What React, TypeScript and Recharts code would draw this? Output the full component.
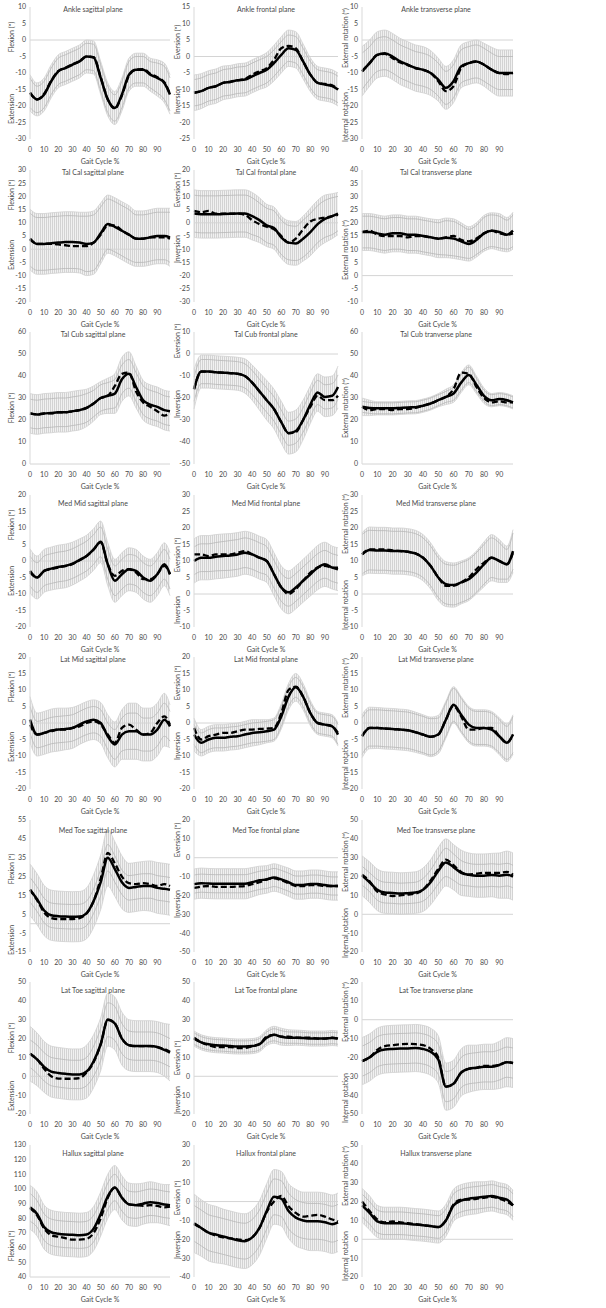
import React from "react";
import { ComposedChart, Line, Area, XAxis, YAxis, ReferenceLine } from "recharts";

// gait cycle sample points (%)
const gaitPct = [0, 5, 10, 15, 20, 25, 30, 35, 40, 45, 50, 55, 60, 65, 70, 75, 80, 85, 90, 95, 99];
const gaitTicks = [0, 10, 20, 30, 40, 50, 60, 70, 80, 90];

// y tick sets
const ticksM30to10 = [-30, -25, -20, -15, -10, -5, 0, 5, 10];
const ticksM25to15 = [-25, -20, -15, -10, -5, 0, 5, 10, 15];
const ticksM20to30 = [-20, -15, -10, -5, 0, 5, 10, 15, 20, 25, 30];
const ticksM30to20 = [-30, -25, -20, -15, -10, -5, 0, 5, 10, 15, 20];
const ticksM10to40 = [-10, -5, 0, 5, 10, 15, 20, 25, 30, 35, 40];
const ticks0to60 = [0, 10, 20, 30, 40, 50, 60];
const ticksM50to10 = [-50, -40, -30, -20, -10, 0, 10];
const ticksM20to20 = [-20, -15, -10, -5, 0, 5, 10, 15, 20];
const ticksM10to30 = [-10, -5, 0, 5, 10, 15, 20, 25, 30];
const ticksM15to55 = [-15, -5, 5, 15, 25, 35, 45, 55];
const ticksM50to20 = [-50, -40, -30, -20, -10, 0, 10, 20];
const ticksM20to50 = [-20, -10, 0, 10, 20, 30, 40, 50];
const ticks40to130 = [40, 50, 60, 70, 80, 90, 100, 110, 120, 130];
const ticksM40to30 = [-40, -30, -20, -10, 0, 10, 20, 30];

// Ankle
const ankleSagSolid = [-16, -18, -16.5, -12.5, -9.5, -8.5, -7.5, -6.5, -5, -5.3, -11.5, -18, -20.6, -16.5, -10.5, -9, -9, -10.5, -11.5, -13, -16.5];
const ankleSagDashed = [-16, -18, -16.3, -12.3, -9.4, -8.4, -7.4, -6.4, -5, -5.2, -11.3, -18, -20.8, -16.8, -10.8, -9, -8.8, -10.2, -11.3, -12.8, -16.3];
const ankleSagSd = [5.5, 5, 5, 5, 5, 5, 5, 5, 5, 5, 5, 5, 5, 5, 5, 5, 5, 5, 5.5, 6, 6];
const ankleSagSdIn = [4.5, 4, 4, 4, 4, 4, 4, 4, 4, 4, 4, 4, 4, 4, 4, 4, 4, 4, 4.5, 5, 5];

const ankleFrontSolid = [-11, -10.5, -9.5, -9, -8, -7.7, -7.2, -7, -6, -5, -4, -2, 0.5, 2.5, 2, -1.5, -5.5, -8, -8.5, -9, -10];
const ankleFrontDashed = [-11, -10.5, -9.5, -9, -8, -7.6, -7.2, -6.8, -5.5, -4.5, -3.5, -1, 2.5, 3.2, 2.5, -1.5, -5.5, -8, -8.3, -8.7, -10];
const ankleFrontSd = [5.4, 5.3, 5.2, 5.2, 5.1, 5, 5, 5, 5, 5, 5.2, 5.4, 5.5, 5.5, 5.5, 5.3, 5.1, 5, 5, 5, 5];
const ankleFrontSdIn = [4, 4, 4, 4, 4, 4, 4, 4, 4, 4, 4, 4, 4, 4, 4, 4, 4, 4, 4, 4, 4];

const ankleTransSolid = [-9.5, -7, -4.5, -4, -5, -6.5, -7.5, -8.5, -9, -10, -12, -14.5, -12.5, -8, -7, -6.5, -7.5, -9, -10, -10, -10];
const ankleTransDashed = [-9.5, -7, -4.5, -4.2, -5.5, -6.8, -7.6, -8.5, -9, -10, -12.5, -15.5, -14, -8.5, -7, -6.5, -7.5, -9, -10, -10.3, -10];
const ankleTransSd = [7.5, 7, 7, 7, 7, 7, 7, 7, 7, 6.8, 6.5, 6.5, 6.5, 6.5, 6.5, 6.5, 6.5, 6.8, 7, 7, 7];
const ankleTransSdIn = [5.5, 5, 5, 5, 5, 5, 5, 5, 5, 5, 5, 5, 5, 5, 5, 5, 5, 5, 5, 5, 5];

// Tal Cal
const talCalSagSolid = [3.7, 2, 2, 2.3, 2.5, 2.7, 2.7, 2.5, 2, 2.5, 6, 9.5, 8.5, 7, 5.5, 4, 4, 4.5, 5, 5, 4.5];
const talCalSagDashed = [4, 2, 2, 2, 1.8, 1.5, 1.2, 1.2, 1.2, 2.5, 5.5, 9, 9, 7, 5.5, 4, 4, 4.5, 4.5, 4.5, 4];
const talCalSagSd = [11.5, 11.5, 11.5, 11.5, 11.5, 11.5, 11.5, 11.5, 12, 12, 11.5, 11, 11, 11, 11, 10.5, 10.5, 10.5, 10.5, 10.5, 11];
const talCalSagSdIn = [10, 10, 10, 10, 10, 10, 10, 10, 10.5, 10.5, 10, 9.5, 9.5, 9.5, 9.5, 9, 9, 9, 9, 9, 9.5];

const talCalFrontSolid = [3.5, 3.2, 3.2, 3.2, 3.3, 3.4, 3.5, 3.5, 2.5, 1, -1, -2, -5.5, -7.5, -7.8, -6, -3.5, -0.5, 1.5, 2.5, 3.5];
const talCalFrontDashed = [4.5, 4, 4.5, 3.5, 3.5, 3.5, 3.5, 3, 1, -0.5, -1.5, -2.5, -5, -7.5, -6, -2.5, 0.5, 1.5, 2, 2.5, 3];
const talCalFrontSd = [9, 9, 9, 9, 9, 9, 9, 9, 9, 8.5, 8, 8, 8, 8.3, 8.3, 8.5, 9, 9, 9, 8.5, 8];
const talCalFrontSdIn = [7, 7, 7, 7, 7, 7, 7, 7, 7, 6.5, 6.5, 6.5, 6.5, 6.5, 6.5, 7, 7, 7, 7, 7, 6.5];

const talCalTransSolid = [16.5, 16.5, 16, 15.5, 16, 16, 15.5, 15.5, 15, 14.5, 14, 14.3, 14, 13, 12, 13.5, 16, 17, 16.5, 15.5, 17];
const talCalTransDashed = [16.5, 17, 15.5, 15, 15, 15, 14.5, 15, 15, 14.5, 14, 14.5, 15, 13.5, 13, 14, 16, 17, 16, 15.5, 16];
const talCalTransSd = [7, 7, 7, 7, 7, 7, 7, 7, 7, 7, 7.2, 7.5, 7.5, 7, 6.5, 6.5, 6.8, 6.8, 7, 6.5, 7];
const talCalTransSdIn = [6, 6, 6, 6, 6, 6, 6, 6, 6, 6, 6, 6.5, 6.5, 6, 5.5, 5.5, 6, 6, 6, 5.5, 6];

// Tal Cub
const talCubSagSolid = [23, 22.5, 23, 23.2, 23.5, 23.5, 24, 24.5, 25.5, 27.5, 30, 31, 32, 38.5, 41, 35, 29, 27, 26, 24.5, 24];
const talCubSagDashed = [23, 22.5, 23, 23, 23.5, 23.5, 24, 24.5, 25.5, 27.5, 30, 31, 35.5, 41, 41.5, 33, 28, 26, 24, 22, 23];
const talCubSagSd = [9, 9, 9, 9, 9, 9, 9, 9, 8.5, 8, 7.5, 8, 9, 10, 10, 9.5, 9, 9, 9, 9, 9];
const talCubSagSdIn = [6.5, 6.5, 6.5, 6.5, 6.5, 6.5, 6.5, 6.5, 6.5, 6, 6, 6, 6.5, 6.5, 6.5, 6.5, 6.5, 6.5, 6.5, 6.5, 6.5];

const talCubFrontSolid = [-16, -8, -8, -8.3, -8.5, -8.7, -9, -10, -13, -17, -21, -25, -31, -36, -35, -30, -23, -17.5, -19.5, -19, -15];
const talCubFrontDashed = [-16, -8, -8, -8.3, -8.5, -8.7, -9, -10, -13, -17, -21, -25, -31, -36, -35.5, -30, -24, -19, -21, -21, -19];
const talCubFrontSd = [9, 7.5, 7.5, 7.5, 7.5, 7.5, 7.5, 7.8, 8, 8.5, 9, 9, 9.5, 9.5, 9.5, 9, 8.5, 8.5, 9, 9, 9.5];
const talCubFrontSdIn = [5.5, 5.5, 5.5, 5.5, 5.5, 5.5, 5.5, 5.5, 5.5, 5.5, 5.5, 5.5, 5.5, 5.5, 5.5, 5.5, 5.5, 5.5, 5.5, 5.5, 5.5];

const talCubTransSolid = [26, 25.5, 25.3, 25.3, 25.3, 25.5, 25.7, 25.8, 26.5, 27.5, 29, 30.5, 32, 37, 40.5, 36, 31, 29, 29.5, 29, 28];
const talCubTransDashed = [26, 24.5, 25, 25, 24.5, 25, 25, 25.5, 26.5, 27.5, 29, 30.5, 34, 41.5, 41, 35, 30, 28, 28.5, 28, 28];
const talCubTransSd = [4, 3.5, 3, 3, 3, 3, 3, 3, 3, 3, 3, 3.5, 4, 4.5, 4.5, 4, 3.5, 3, 3, 3, 3];
const talCubTransSdIn = [2.5, 2.5, 2.5, 2.5, 2.5, 2.5, 2.5, 2.5, 2.5, 2.5, 2.5, 2.5, 3, 3.5, 3.5, 3, 2.5, 2.5, 2.5, 2.5, 2.5];

// Med Mid
const medMidSagSolid = [-3, -5, -3, -2.3, -1.8, -1.5, -0.8, 0.3, 1.5, 3.5, 5.8, -1, -6, -4, -2.5, -3, -5, -6, -4, -1, -4];
const medMidSagDashed = [-3.5, -5, -3, -2.5, -2, -1.5, -1, 0.2, 1.5, 3.5, 5.7, -1, -4.5, -3, -2.5, -3.5, -5.5, -5.5, -4, -1.5, -4];
const medMidSagSd = [6.7, 6.5, 6.5, 6.5, 6.6, 6.6, 6.5, 6.4, 6.3, 6.3, 6.3, 6.5, 6.5, 6.5, 6.5, 6.5, 6.5, 6.5, 6.5, 6.5, 6.5];
const medMidSagSdIn = [4.5, 4.5, 4.5, 4.5, 4.5, 4.5, 4.5, 4.5, 4.5, 4.5, 4.5, 4.5, 4.5, 4.5, 4.5, 4.5, 4.5, 4.5, 4.5, 4.5, 4.5];

const medMidFrontSolid = [10, 11, 11, 11.3, 11.5, 11.7, 12, 12.5, 12, 11, 10, 6, 2, 0.5, 2, 4, 6, 8, 9, 8, 7.5];
const medMidFrontDashed = [12, 12, 11.5, 12, 12, 12, 12.5, 13, 12, 11, 10, 6, 2, 0, 1.5, 4, 6.5, 8, 8.5, 8, 8];
const medMidFrontSd = [6.7, 6.7, 6.7, 6.7, 6.7, 6.6, 6.6, 6.5, 6.5, 6.5, 6.5, 6.5, 6.5, 6.5, 6.5, 6.5, 6.6, 6.7, 6.7, 6.5, 6.5];
const medMidFrontSdIn = [4.2, 4.2, 4.2, 4.3, 4.4, 4.5, 4.5, 4.5, 4.5, 4.5, 4.3, 4.2, 4.2, 4.2, 4.2, 4.2, 4.2, 4.2, 4.2, 4.2, 4.2];

const medMidTransSolid = [12, 13.3, 13.2, 13.2, 13, 13, 12.8, 12.3, 11, 8.5, 5, 3, 2.7, 3.5, 4.5, 6.5, 9, 11, 10, 9, 13];
const medMidTransDashed = [12, 13.5, 13.5, 13.5, 13.2, 13, 12.8, 12.3, 11, 8.5, 5, 2.5, 2.5, 3.5, 5, 7.5, 9.5, 11, 10, 9, 12.5];
const medMidTransSd = [6.5, 7, 7, 7, 7, 7, 7, 7, 7, 7, 7, 6.8, 6.7, 6.5, 6.5, 6.5, 6.8, 7, 6.5, 5.5, 6.5];
const medMidTransSdIn = [6, 6, 6, 6, 6, 6, 6, 6, 6, 6, 6, 6, 6, 6, 6, 6, 6, 6, 5.5, 4.5, 5.5];

// Lat Mid
const latMidSagSolid = [1, -3.5, -3, -2.3, -2, -1.8, -1.5, -0.5, 0.5, 1, 0, -4, -6.5, -3.5, -2.5, -2.5, -3.5, -3.5, -2, 1, -1];
const latMidSagDashed = [-0.5, -3.5, -3, -2.5, -2, -2, -1.5, -1, 0, 0.5, -0.5, -3.5, -6, -1.5, -0.5, -2, -3.5, -3, 0, 2, -0.5];
const latMidSagSd = [7, 6.5, 6.5, 6.5, 6.5, 6.3, 6.2, 6, 6, 6, 6.2, 6.5, 6.8, 7.5, 8.5, 8.5, 8, 8, 8, 8, 6.5];
const latMidSagSdIn = [4, 4, 4, 4, 4, 4, 4, 4, 4, 4, 4, 4, 4.5, 5, 5.5, 5.5, 5, 5, 5, 5, 4.5];

const latMidFrontSolid = [-3.5, -6, -5, -4.5, -4.5, -4.2, -4, -3.5, -3, -2.8, -2.5, -2, 2, 8, 10.8, 8, 3, 0, -0.5, -1, -3.5];
const latMidFrontDashed = [-1.5, -5, -4, -3.5, -3, -3, -2.5, -2, -2, -1.8, -1.7, -1.5, 3, 10, 11, 8, 3, 0, -0.5, -1, -3];
const latMidFrontSd = [5, 4, 4, 4, 4, 4, 4, 4, 4, 3.8, 3.5, 3.5, 3.8, 4, 4.2, 4, 3.8, 3.5, 3.5, 3.5, 3.5];
const latMidFrontSdIn = [3, 3, 3, 3, 3, 3, 3, 3, 3, 3, 3, 3, 3, 3, 3, 3, 3, 3, 3, 3, 3];

const latMidTransSolid = [-4, -1.5, -1.5, -1.7, -1.8, -2, -2.2, -2.8, -3.5, -4.2, -3.5, 1, 5.5, 2.5, -0.5, -1.5, -1.5, -2, -4, -6, -3.5];
const latMidTransDashed = [-4, -1.5, -1.5, -1.7, -1.8, -2, -2.2, -2.8, -3.5, -4.2, -3.5, 1, 5.2, 2, -2, -2, -1.5, -1.5, -4, -6, -3.5];
const latMidTransSd = [6.5, 6.3, 6.2, 6.2, 6.2, 6.2, 6.2, 6.1, 6, 6, 5.8, 5.6, 5.5, 5.5, 5.5, 5.5, 5.5, 5.5, 5.6, 5.7, 6];
const latMidTransSdIn = [5.5, 5.5, 5.5, 5.5, 5.5, 5.5, 5.5, 5.5, 5.5, 5.5, 5, 5, 5, 5, 5, 5, 5, 5, 5, 5, 5.5];

// Med Toe
const medToeSagSolid = [18, 13, 7, 4.5, 4, 3.8, 3.7, 3.8, 5.5, 12, 22, 35, 29, 22, 19, 19.5, 20, 20, 19, 18.5, 18];
const medToeSagDashed = [18, 12.5, 6, 3, 2.5, 2.5, 2.5, 3, 5.5, 12, 24, 37.5, 32, 25, 21.5, 21, 21.5, 21, 20, 21, 20];
const medToeSagSd = [13.7, 13.5, 13.3, 13.3, 13.3, 13.3, 13.3, 13.3, 13.5, 14, 14.5, 15, 14.5, 14, 13, 13, 13, 13.3, 13.5, 13.5, 13.5];
const medToeSagSdIn = [6.5, 6.5, 6.5, 6.5, 6.5, 6.5, 6.5, 6.5, 6.5, 6.5, 7, 7, 7, 6.5, 6.5, 6.5, 6.5, 6.5, 6.5, 6.5, 6.5];

const medToeFrontSolid = [-14, -13.5, -13.7, -13.8, -13.8, -13.8, -13.8, -13.8, -13, -12, -11.5, -10.5, -11.5, -13, -14.5, -14.5, -14, -14, -14.5, -15, -15];
const medToeFrontDashed = [-16, -15.3, -15, -15.5, -15.5, -15.5, -15.3, -15, -14, -13, -11.5, -11, -12, -13.5, -15, -15, -14.5, -14.5, -15, -15, -15];
const medToeFrontSd = [8, 8, 8, 8, 8, 8, 8, 8, 7.8, 7.5, 7.3, 7.3, 7.3, 7.5, 7.5, 7.5, 7.5, 7.5, 7.5, 7.5, 7.5];
const medToeFrontSdIn = [4.8, 4.8, 4.8, 4.8, 4.8, 4.8, 4.8, 4.8, 4.8, 4.8, 4.8, 4.8, 4.8, 4.8, 4.8, 4.8, 4.8, 4.8, 4.8, 4.8, 4.8];

const medToeTransSolid = [20.5, 17, 13, 11.5, 11.3, 11, 11.2, 11.5, 13, 17, 23, 27.5, 25, 22, 21, 20.5, 20.5, 20.8, 20.5, 21, 20];
const medToeTransDashed = [21, 17.5, 12, 10.5, 9.7, 10, 10.5, 11, 13, 18, 24, 29, 26, 22.5, 21, 21.5, 22, 22, 22, 22.5, 21];
const medToeTransSd = [10.5, 10.8, 11, 11, 11, 11, 11, 11, 11.5, 12, 12.5, 12.5, 12, 12, 11.5, 11.5, 11.5, 11.5, 12, 12.5, 12.5];
const medToeTransSdIn = [5, 5, 5.5, 5.5, 5.5, 5.5, 5.5, 5.5, 6, 6.5, 7, 7.5, 7, 6.5, 6, 6, 6, 6, 6, 6, 6];

// Lat Toe
const latToeSagSolid = [12, 9, 5, 2.5, 1.8, 1.3, 1, 1, 2.5, 8, 17, 30, 28, 20, 16.5, 16, 16, 16, 15.5, 14, 12.5];
const latToeSagDashed = [12, 9, 4, 0, -1.2, -1.3, -1.3, -1, 2, 7.5, 17, 30, 28, 20, 16.5, 16, 16, 16, 15.5, 14.5, 13];
const latToeSagSd = [14.5, 14, 13.5, 13.5, 13.5, 13.5, 13.5, 13.5, 14, 14, 14, 14, 14, 14, 13.5, 13.5, 13.5, 13.5, 13.5, 14, 15];
const latToeSagSdIn = [7.3, 7.5, 7.5, 7.5, 7.5, 7.5, 7.5, 7.5, 7.5, 8, 8.5, 9, 9, 8, 7.5, 7.5, 7.5, 7.5, 7.5, 7.5, 7.5];

const latToeFrontSolid = [20, 18, 17, 16.5, 16.3, 16, 15.8, 15.8, 16, 17, 20.5, 22, 21, 20.5, 20.5, 20.3, 20, 20, 20, 20.3, 20];
const latToeFrontDashed = [20.5, 18, 16.5, 15.5, 15.5, 15.5, 15, 15, 16, 17, 21, 22, 21, 21, 20.5, 20.5, 20.5, 20, 20, 20.5, 20];
const latToeFrontSd = [4, 4, 4, 4, 4, 4, 4, 4, 4, 4, 4.2, 4.5, 4.5, 4.2, 4, 4, 4, 4, 4, 4, 4];
const latToeFrontSdIn = [3, 3, 3, 3, 3, 3, 3, 3, 3, 3, 3, 3.2, 3.2, 3, 3, 3, 3, 3, 3, 3, 3];

const latToeTransSolid = [-22, -20, -17, -15.8, -15.5, -15.3, -15.2, -15, -15.5, -17, -21, -35.5, -34, -28, -26, -25.5, -25, -25, -24, -22.5, -23];
const latToeTransDashed = [-22, -20, -16, -14, -13.5, -13, -12.8, -13, -13.5, -15.5, -20, -35.5, -34, -28, -26, -25.5, -24.5, -24.5, -24, -22.5, -23];
const latToeTransSd = [12.5, 12.5, 12.5, 12.5, 12.5, 12.5, 12.5, 12.5, 12.5, 12.5, 12.5, 12.5, 12.5, 12.5, 12.5, 12, 12, 12, 12.5, 13, 13];
const latToeTransSdIn = [8, 8, 8, 8, 8, 8, 8, 8, 8, 8, 8, 8, 8, 8, 8, 8, 8, 8, 8, 8, 8];

// Hallux
const halluxSagSolid = [87.5, 83, 74, 70.5, 69.5, 69, 68.8, 68.5, 69, 73, 83, 95, 101, 94, 89.5, 89, 90, 91, 90.5, 89.5, 89];
const halluxSagDashed = [87, 82, 73, 68.5, 67.5, 66.5, 65.5, 65.5, 66, 70, 80, 94, 101, 94, 89.5, 89, 88.5, 89, 88.5, 87.5, 88];
const halluxSagSd = [15, 15, 15, 15, 15, 15, 15, 15, 15, 15, 15, 15, 15, 15, 14.5, 14.5, 14, 14, 13.5, 13.5, 14];
const halluxSagSdIn = [9.5, 9, 9, 9, 9, 9, 9, 9, 9, 9, 9, 9, 9, 9, 9, 9, 9, 9, 9, 9, 9];

const halluxFrontSolid = [-11.5, -14, -16.5, -17.5, -18.5, -19.5, -20.5, -21, -19, -14, -5, 2.5, 1.5, -5, -8.5, -10, -10.5, -10.5, -11, -12, -11];
const halluxFrontDashed = [-12, -14, -16.5, -18, -19, -19.5, -20, -20.5, -19, -14, -5.5, 0, 3, -2.5, -6, -8, -7.5, -7, -8, -9.5, -10.5];
const halluxFrontSd = [15.5, 15, 15, 15, 14.5, 14.5, 14.5, 14.5, 14.5, 14.5, 14.5, 14.5, 14.5, 14.5, 15, 15, 15.5, 15.5, 15.5, 15.5, 15.5];
const halluxFrontSdIn = [9.5, 9.5, 9.5, 9.5, 9.5, 9.5, 9.5, 9.5, 9.5, 9.5, 9.5, 9.5, 9.5, 9.5, 9.5, 9.5, 9.5, 9.5, 9.5, 9.5, 9.5];

const halluxTransSolid = [18, 14, 9.5, 8.5, 8.5, 8.5, 8.2, 7.8, 7.5, 7, 6.5, 10, 18, 20.5, 21.5, 22, 22.5, 23, 22, 21, 18];
const halluxTransDashed = [20, 15, 10.5, 9, 9.5, 9, 8.5, 8, 7.5, 7, 6.5, 10, 18.5, 21, 21, 21.5, 22, 22.5, 21.5, 20, 18];
const halluxTransSd = [9, 9, 8.5, 8.5, 8.5, 8.5, 8.5, 8.5, 8.5, 8.5, 8.5, 8.5, 8.5, 8.5, 8.5, 8.5, 8, 8, 8, 8, 8];
const halluxTransSdIn = [6, 6, 6, 6, 6, 6, 6, 6, 6, 6, 6, 6, 6, 6, 6, 6, 6, 6, 6, 6, 6];

const FONT = "Lato, 'Open Sans', sans-serif";
const FLEX = "Flexion (º)";
const EXT = "Extension";
const EVER = "Eversion (º)";
const INV = "Inversion";
const EXTROT = "External rotation (º)";
const INTROT = "Internal rotation";

// row-major, 8 rows x 3 columns
const panels = [
  { title: "Ankle sagittal plane", up: FLEX, down: EXT, upY: 37, downY: 109, ticks: ticksM30to10, solid: ankleSagSolid, dashed: ankleSagDashed, sd: ankleSagSd, sdIn: ankleSagSdIn },
  { title: "Ankle frontal plane", up: EVER, down: INV, upY: 42, downY: 100, ticks: ticksM25to15, solid: ankleFrontSolid, dashed: ankleFrontDashed, sd: ankleFrontSd, sdIn: ankleFrontSdIn },
  { title: "Ankle transverse plane", up: EXTROT, down: INTROT, upY: 38, downY: 117, ticks: ticksM30to10, solid: ankleTransSolid, dashed: ankleTransDashed, sd: ankleTransSd, sdIn: ankleTransSdIn },

  { title: "Tal Cal sagittal plane", up: FLEX, down: EXT, upY: 32, downY: 92, ticks: ticksM20to30, solid: talCalSagSolid, dashed: talCalSagDashed, sd: talCalSagSd, sdIn: talCalSagSdIn },
  { title: "Tal Cal frontal plane", up: EVER, down: INV, upY: 27, downY: 86, ticks: ticksM30to20, solid: talCalFrontSolid, dashed: talCalFrontDashed, sd: talCalFrontSd, sdIn: talCalFrontSdIn },
  { title: "Tal Cal transverse plane", up: EXTROT, down: null, upY: 87, downY: 0, ticks: ticksM10to40, solid: talCalTransSolid, dashed: talCalTransDashed, sd: talCalTransSd, sdIn: talCalTransSdIn },

  { title: "Tal Cub sagittal plane", up: FLEX, down: null, upY: 83, downY: 0, ticks: ticks0to60, solid: talCubSagSolid, dashed: talCubSagDashed, sd: talCubSagSd, sdIn: talCubSagSdIn },
  { title: "Tal Cub frontal plane", up: EVER, down: INV, upY: 16, downY: 79, ticks: ticksM50to10, solid: talCubFrontSolid, dashed: talCubFrontDashed, sd: talCubFrontSd, sdIn: talCubFrontSdIn },
  { title: "Tal Cub tranverse plane", up: EXTROT, down: null, upY: 83, downY: 0, ticks: ticks0to60, solid: talCubTransSolid, dashed: talCubTransDashed, sd: talCubTransSd, sdIn: talCubTransSdIn },

  { title: "Med Mid sagittal plane", up: FLEX, down: EXT, upY: 37, downY: 93, ticks: ticksM20to20, solid: medMidSagSolid, dashed: medMidSagDashed, sd: medMidSagSd, sdIn: medMidSagSdIn },
  { title: "Med Mid frontal plane", up: EVER, down: INV, upY: 67, downY: 122, ticks: ticksM10to30, solid: medMidFrontSolid, dashed: medMidFrontDashed, sd: medMidFrontSd, sdIn: medMidFrontSdIn },
  { title: "Med Mid transverse plane", up: EXTROT, down: INTROT, upY: 36, downY: 117, ticks: ticksM10to30, solid: medMidTransSolid, dashed: medMidTransDashed, sd: medMidTransSd, sdIn: medMidTransSdIn },

  { title: "Lat Mid sagittal plane", up: FLEX, down: EXT, upY: 37, downY: 97, ticks: ticksM20to20, solid: latMidSagSolid, dashed: latMidSagDashed, sd: latMidSagSd, sdIn: latMidSagSdIn },
  { title: "Lat Mid frontal plane", up: EVER, down: INV, upY: 33, downY: 96, ticks: ticksM20to20, solid: latMidFrontSolid, dashed: latMidFrontDashed, sd: latMidFrontSd, sdIn: latMidFrontSdIn },
  { title: "Lat Mid transverse plane", up: EXTROT, down: INTROT, upY: 38, downY: 115, ticks: ticksM20to20, solid: latMidTransSolid, dashed: latMidTransDashed, sd: latMidTransSd, sdIn: latMidTransSdIn },

  { title: "Med Toe sagittal plane", up: FLEX, down: EXT, upY: 56, downY: 127, ticks: ticksM15to55, solid: medToeSagSolid, dashed: medToeSagDashed, sd: medToeSagSd, sdIn: medToeSagSdIn },
  { title: "Med Toe frontal plane", up: EVER, down: INV, upY: 27, downY: 91, ticks: ticksM50to20, solid: medToeFrontSolid, dashed: medToeFrontDashed, sd: medToeFrontSd, sdIn: medToeFrontSdIn },
  { title: "Med Toe transverse plane", up: EXTROT, down: INTROT, upY: 49, downY: 120, ticks: ticksM20to50, solid: medToeTransSolid, dashed: medToeTransDashed, sd: medToeTransSd, sdIn: medToeTransSdIn },

  { title: "Lat Toe sagittal plane", up: FLEX, down: EXT, upY: 63, downY: 121, ticks: ticksM20to50, solid: latToeSagSolid, dashed: latToeSagDashed, sd: latToeSagSd, sdIn: latToeSagSdIn },
  { title: "Lat Toe frontal plane", up: EVER, down: INV, upY: 83, downY: 125, ticks: ticksM20to50, solid: latToeFrontSolid, dashed: latToeFrontDashed, sd: latToeFrontSd, sdIn: latToeFrontSdIn },
  { title: "Lat Toe transverse plane", up: EXTROT, down: INTROT, upY: 37, downY: 123, ticks: ticksM50to20, solid: latToeTransSolid, dashed: latToeTransDashed, sd: latToeTransSd, sdIn: latToeTransSdIn },

  { title: "Hallux sagittal plane", up: FLEX, down: null, upY: 108, downY: 0, ticks: ticks40to130, solid: halluxSagSolid, dashed: halluxSagDashed, sd: halluxSagSd, sdIn: halluxSagSdIn },
  { title: "Hallux frontal plane", up: EVER, down: INV, upY: 60, downY: 107, ticks: ticksM40to30, solid: halluxFrontSolid, dashed: halluxFrontDashed, sd: halluxFrontSd, sdIn: halluxFrontSdIn },
  { title: "Hallux transverse plane", up: EXTROT, down: INTROT, upY: 38, downY: 118, ticks: ticksM20to50, solid: halluxTransSolid, dashed: halluxTransDashed, sd: halluxTransSd, sdIn: halluxTransSdIn },
];

// layout
const ROW_PITCH = 162.5;
const CHART_H = 165;
const plotLeft = [30, 194, 362];
const plotRight = [170, 338, 513];
const ylabX = [11, 177, 345];
const titleX = [93, 266, 436];
const titleYByRow = [9, 9, 9, 15, 9, 17, 15, 15];

const TEXT = "#4a4a4a";
const tickStyle = { fontSize: 7, fill: TEXT, fontFamily: FONT };
const textBase: React.CSSProperties = {
  position: "absolute",
  whiteSpace: "nowrap",
  fontSize: 7,
  color: TEXT,
  fontFamily: FONT,
  lineHeight: 1,
};

function RotLabel({ x, y, text }: { x: number; y: number; text: string }) {
  return (
    <div style={{ ...textBase, left: x, top: y, transform: "translate(-50%, -50%) rotate(-90deg)" }}>
      {text}
    </div>
  );
}

function Panel({ p, row, col }: { p: any; row: number; col: number }) {
  const top = row * ROW_PITCH;
  const left = plotLeft[col] - 30;
  const width = plotRight[col] - plotLeft[col] + 30 + 6;
  const lo = p.ticks[0];
  const hi = p.ticks[p.ticks.length - 1];
  const axisY = Math.min(Math.max(0, lo), hi);

  const rows = gaitPct.map((x, i) => ({
    x,
    solid: p.solid[i],
    dashed: p.dashed[i],
    band: [p.solid[i] - p.sd[i], p.solid[i] + p.sd[i]],
    outHi: p.solid[i] + p.sd[i],
    outLo: p.solid[i] - p.sd[i],
    inHi: p.solid[i] + p.sdIn[i],
    inLo: p.solid[i] - p.sdIn[i],
  }));

  return (
    <>
      <div style={{ position: "absolute", left, top, width, height: CHART_H }}>
        <ComposedChart width={width} height={CHART_H} data={rows} margin={{ top: 7, right: 6, bottom: 12, left: 0 }}>
          <XAxis
            dataKey="x"
            type="number"
            domain={[0, 99]}
            ticks={gaitTicks}
            tickLine={false}
            axisLine={false}
            tickSize={6}
            tickMargin={2}
            height={14}
            tick={tickStyle}
            interval={0}
          />
          <YAxis
            type="number"
            domain={[lo, hi]}
            ticks={p.ticks}
            allowDataOverflow
            width={30}
            tickLine={false}
            tickSize={3}
            tickMargin={1}
            axisLine={{ stroke: "#d9d9d9" }}
            tick={tickStyle}
            interval={0}
          />
          <ReferenceLine y={axisY} stroke="#d4d4d4" strokeWidth={1} />
          <Area dataKey="band" type="monotone" fill="url(#vhatch)" fillOpacity={1} stroke="none" isAnimationActive={false} dot={false} activeDot={false} />
          <Line dataKey="outHi" type="monotone" stroke="#d0d0d0" strokeWidth={0.8} dot={false} activeDot={false} isAnimationActive={false} />
          <Line dataKey="outLo" type="monotone" stroke="#d0d0d0" strokeWidth={0.8} dot={false} activeDot={false} isAnimationActive={false} />
          <Line dataKey="inHi" type="monotone" stroke="#b8b8b8" strokeWidth={0.8} dot={false} activeDot={false} isAnimationActive={false} />
          <Line dataKey="inLo" type="monotone" stroke="#b8b8b8" strokeWidth={0.8} dot={false} activeDot={false} isAnimationActive={false} />
          <Line dataKey="dashed" type="monotone" stroke="#000" strokeWidth={2.3} strokeDasharray="6 3" dot={false} activeDot={false} isAnimationActive={false} />
          <Line dataKey="solid" type="monotone" stroke="#000" strokeWidth={2.5} dot={false} activeDot={false} isAnimationActive={false} />
        </ComposedChart>
      </div>
      <div style={{ ...textBase, left: titleX[col], top: top + titleYByRow[row], transform: "translate(-50%, -50%)" }}>
        {p.title}
      </div>
      <div style={{ ...textBase, left: (plotLeft[col] + plotRight[col]) / 2, top: top + 161, transform: "translate(-50%, -50%)" }}>
        Gait Cycle %
      </div>
      <RotLabel x={ylabX[col]} y={top + p.upY} text={p.up} />
      {p.down ? <RotLabel x={ylabX[col]} y={top + p.downY} text={p.down} /> : null}
    </>
  );
}

export default function App() {
  return (
    <div style={{ position: "relative", width: 606, height: 1308, background: "#fff", overflow: "hidden" }}>
      <style>{`body{margin:0;background:#fff}`}</style>
      <svg width={0} height={0} style={{ position: "absolute" }}>
        <defs>
          <pattern id="vhatch" x={0} y={0} width={2} height={4} patternUnits="userSpaceOnUse">
            <rect x={0} y={0} width={2} height={4} fill="#f1f1f1" />
            <rect x={0} y={0} width={1} height={4} fill="#d3d3d3" />
          </pattern>
        </defs>
      </svg>
      {panels.map((p, i) => (
        <Panel key={p.title} p={p} row={Math.floor(i / 3)} col={i % 3} />
      ))}
    </div>
  );
}
